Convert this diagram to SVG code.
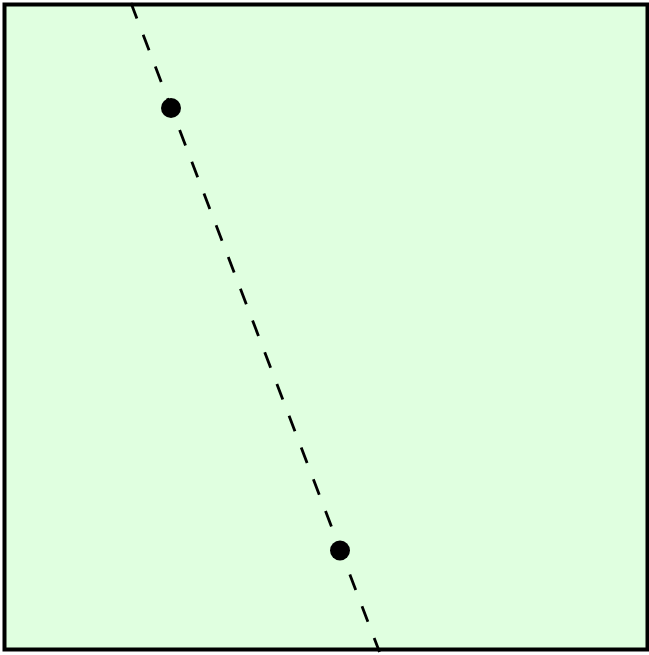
<svg xmlns="http://www.w3.org/2000/svg" width="649" height="655" viewBox="0 0 649 655">
<style>
.frame{fill:#e0ffe0;stroke:#000;stroke-width:4}
.dash{stroke:#000;stroke-width:2.8;stroke-dasharray:16.5 17.5;fill:none}
.dot{fill:#000}
</style>
<g id="frame"><rect class="frame" x="4.5" y="4.5" width="643" height="645"/></g>
<g id="connectors"><line class="dash" x1="131" y1="3" x2="379.5" y2="652"/></g>
<g id="p1"><circle class="dot" cx="171" cy="108" r="10"/></g>
<g id="p2"><circle class="dot" cx="340" cy="550.5" r="10"/></g>
</svg>
